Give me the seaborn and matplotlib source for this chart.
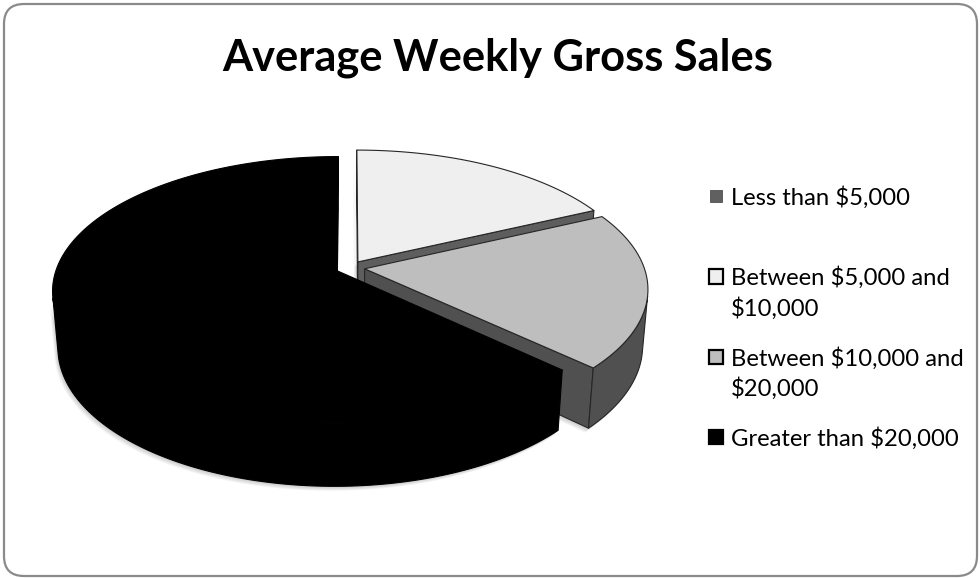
import numpy as np
import matplotlib
matplotlib.use("Agg")
import matplotlib.pyplot as plt
from matplotlib.patches import Polygon, Rectangle, FancyBboxPatch
import seaborn as sns

# ---- data -------------------------------------------------------------
categories = ["Less than $5,000",
              "Between $5,000 and\n$10,000",
              "Between $10,000 and\n$20,000",
              "Greater than $20,000"]
shares = [0, 18, 19, 63]          # percent of stores
title = "Average Weekly Gross Sales"

# ---- style ------------------------------------------------------------
top_colors = ["#606060", "#efefef", "#bebebe", "#000000"]
wall_colors = ["#404040", "#5e5e5e", "#505050", "#000000"]
edge_colors = ["#333333", "#262626", "#262626", "#000000"]

sns.set_theme(style="white")
plt.rcParams["font.family"] = ["Lato", "DejaVu Sans"]

W, H = 980, 578
fig = plt.figure(figsize=(W / 100, H / 100), dpi=100)
ax = fig.add_axes([0, 0, 1, 1])
ax.set_xlim(0, W)
ax.set_ylim(H, 0)
ax.axis("off")

# ---- camera for the tilted, exploded disc (unit radius) ---------------
CX, CY = 350.0, 267.7
SCALE = 279.5
DIST = 6.0
TILT = np.radians(27.7)
THICK = 0.23
EXPLODE = 0.053
SA, CA = np.sin(TILT), np.cos(TILT)
CAM_X, CAM_Z = 0.0, -DIST * CA


def project(X, Z, Y):
    X, Z, Y = (np.asarray(v, dtype=float) for v in (X, Z, Y))
    yv = Y * CA + Z * SA
    zv = -Y * SA + Z * CA + DIST
    return CX + SCALE * DIST * X / zv, CY - SCALE * DIST * yv / zv, zv


def faces_camera(px, pz, nx, nz):
    return (CAM_X - px) * nx + (CAM_Z - pz) * nz > 0


walls, tops = [], []
angles = np.cumsum([0] + shares) / sum(shares) * 360.0
for i, share in enumerate(shares):
    if share <= 0:
        continue
    a0, a1 = np.radians(angles[i]), np.radians(angles[i + 1])
    mid = 0.5 * (a0 + a1)
    ox, oz = EXPLODE * np.sin(mid), EXPLODE * np.cos(mid)
    th = np.linspace(a0, a1, max(int(np.degrees(a1 - a0) * 2), 6))
    rx, rz = ox + np.sin(th), oz + np.cos(th)

    # top face
    X, Z = np.r_[ox, rx], np.r_[oz, rz]
    sx, sy, zv = project(X, Z, np.zeros_like(X))
    tops.append((zv.mean(), np.c_[sx, sy], i))

    # curved outer wall (front-facing part)
    vis = faces_camera(rx, rz, np.sin(th), np.cos(th))
    if vis.sum() > 1:
        tx, tz = rx[vis], rz[vis]
        u = project(tx, tz, np.zeros_like(tx))
        d = project(tx[::-1], tz[::-1], np.full_like(tx, -THICK))
        pts = np.r_[np.c_[u[0], u[1]], np.c_[d[0], d[1]]]
        walls.append((np.r_[u[2], d[2]].mean(), pts, i))

    # flat radial walls
    for a, sign in ((a0, -1.0), (a1, 1.0)):
        nx, nz = sign * np.cos(a), -sign * np.sin(a)
        if not faces_camera(ox, oz, nx, nz):
            continue
        ex, ez = ox + np.sin(a), oz + np.cos(a)
        px = [ox, ex, ex, ox]
        pz = [oz, ez, ez, oz]
        py = [0, 0, -THICK, -THICK]
        sx, sy, zv = project(px, pz, py)
        walls.append((zv.mean(), np.c_[sx, sy], i))

# soft drop shadow under the walls
for k in range(1, 6):
    for _, pts, i in walls:
        ax.add_patch(Polygon(pts + np.array([-0.7 * k, 0.9 * k]), closed=True,
                             facecolor="#000000", edgecolor="none",
                             alpha=0.045))

for _, pts, i in sorted(walls, key=lambda w: -w[0]):
    ax.add_patch(Polygon(pts, closed=True, facecolor=wall_colors[i],
                         edgecolor=edge_colors[i], linewidth=0.8,
                         joinstyle="round"))
for _, pts, i in sorted(tops, key=lambda w: -w[0]):
    ax.add_patch(Polygon(pts, closed=True, facecolor=top_colors[i],
                         edgecolor=edge_colors[i], linewidth=0.8,
                         joinstyle="round"))

# ---- title --------------------------------------------------------------
t = ax.text(497.5, 70, title, ha="center", va="baseline",
            fontsize=34, fontweight="bold", color="#000000")
fig.canvas.draw()
w = t.get_window_extent().width
t.set_fontsize(34 * 551 / w)

# ---- legend -------------------------------------------------------------
probe = ax.text(731, 205, categories[0], ha="left", va="baseline", fontsize=18)
fig.canvas.draw()
lsize = 18 * 180 / probe.get_window_extent().width
probe.remove()

first_baseline = 205
step = 80.3
line_gap = 30.5
for i, label in enumerate(categories):
    base = first_baseline + i * step
    for k, line in enumerate(label.split("\n")):
        ax.text(731, base + k * line_gap, line, ha="left", va="baseline",
                fontsize=lsize, color="#000000")
    if i == 0:
        ax.add_patch(Rectangle((710, base - 15), 12, 12,
                               facecolor=top_colors[i], edgecolor="#505050",
                               linewidth=0.6))
    else:
        ax.add_patch(Rectangle((708.5, base - 16), 14.5, 14.5,
                               facecolor=top_colors[i], edgecolor="#000000",
                               linewidth=1.6))

# ---- rounded chart frame --------------------------------------------------
ax.add_patch(FancyBboxPatch((4, 4), 973, 572,
                            boxstyle="round,pad=0,rounding_size=20",
                            facecolor="none", edgecolor="#8a8a8a",
                            linewidth=1.6))

fig.savefig("out.png", dpi=100, facecolor="white")
